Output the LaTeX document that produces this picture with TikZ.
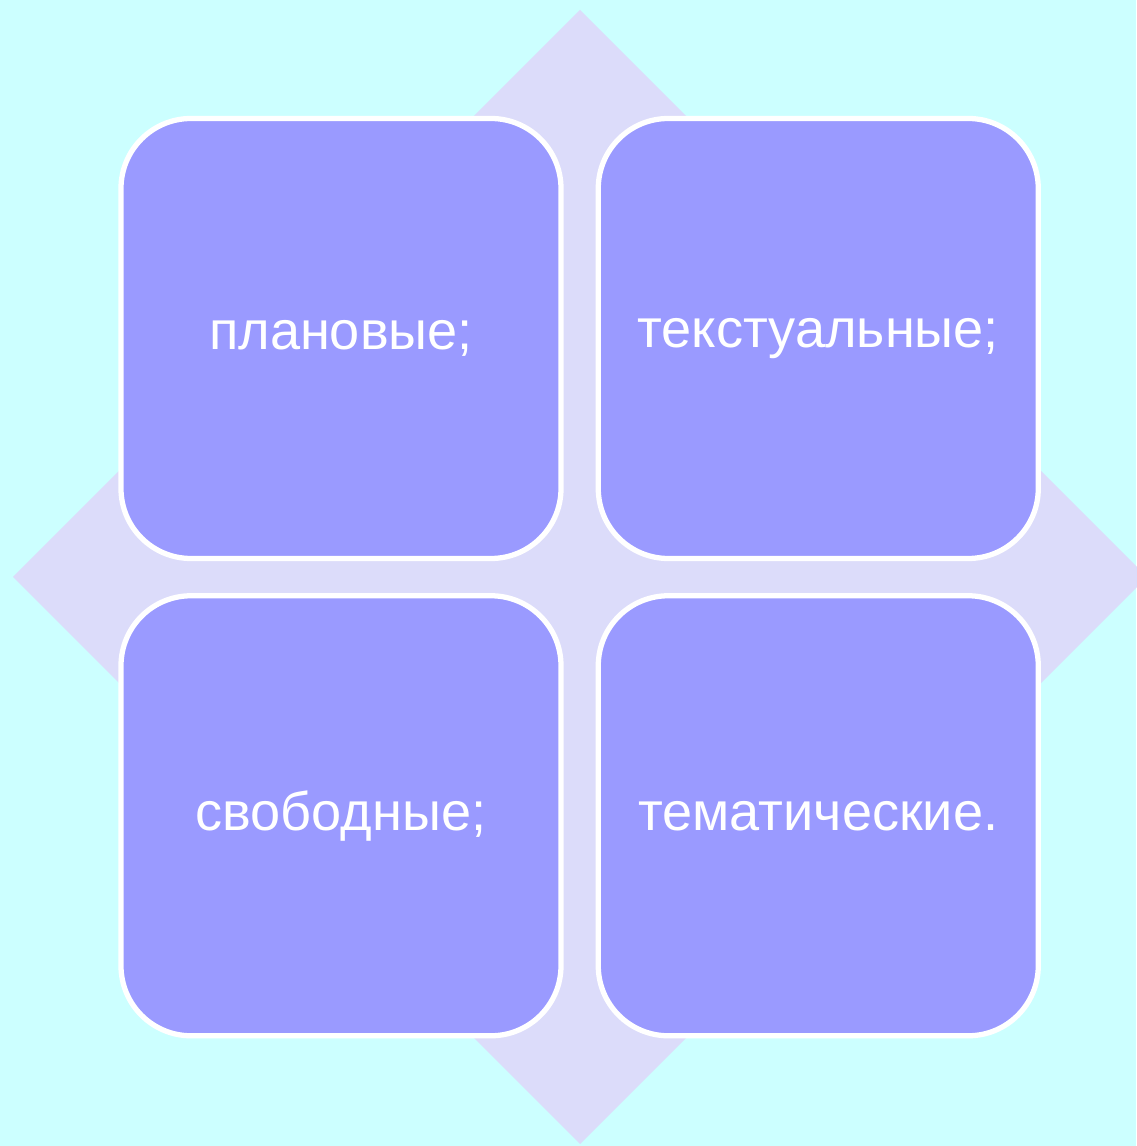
\documentclass[tikz,border=0pt]{standalone}
\usepackage{fontspec}
\setmainfont{Liberation Sans}
\usetikzlibrary{positioning}
\definecolor{skybg}{HTML}{CCFFFF}
\definecolor{lilac}{HTML}{DCDCFA}
\definecolor{tilefill}{HTML}{9A9AFF}

\begin{document}
\begin{tikzpicture}[
    font=\rmfamily,
    tile/.style = {draw=white, fill=tilefill, text=white, line width=1.5pt,
                   minimum width=44.0mm, minimum height=44.0mm,
                   rounded corners=7mm, align=center, inner sep=2pt,
                   font=\fontsize{15.4}{18}\selectfont},
  ]

  % ===================================================================
  % Canvas and lilac diamond behind the grid
  % ===================================================================
  \fill[skybg] (0,0) rectangle (11.36,11.46);
  \useasboundingbox (0,0) rectangle (11.36,11.46);
  \fill[lilac] (5.80,11.36) -- (11.47,5.69) -- (5.80,0.02)
    -- (0.13,5.69) -- cycle;

  % ===================================================================
  % 2 x 2 grid of rounded tiles
  % ===================================================================
  \node[tile] (plan) at (3.41,8.075) {плановые;};
  \node[tile, right=3.2mm of plan] (text) {текстуальные;};
  \node[tile, below=3.2mm of plan] (free) {свободные;};
  \node[tile, right=3.2mm of free] (theme) {тематические.};

\end{tikzpicture}
\end{document}
